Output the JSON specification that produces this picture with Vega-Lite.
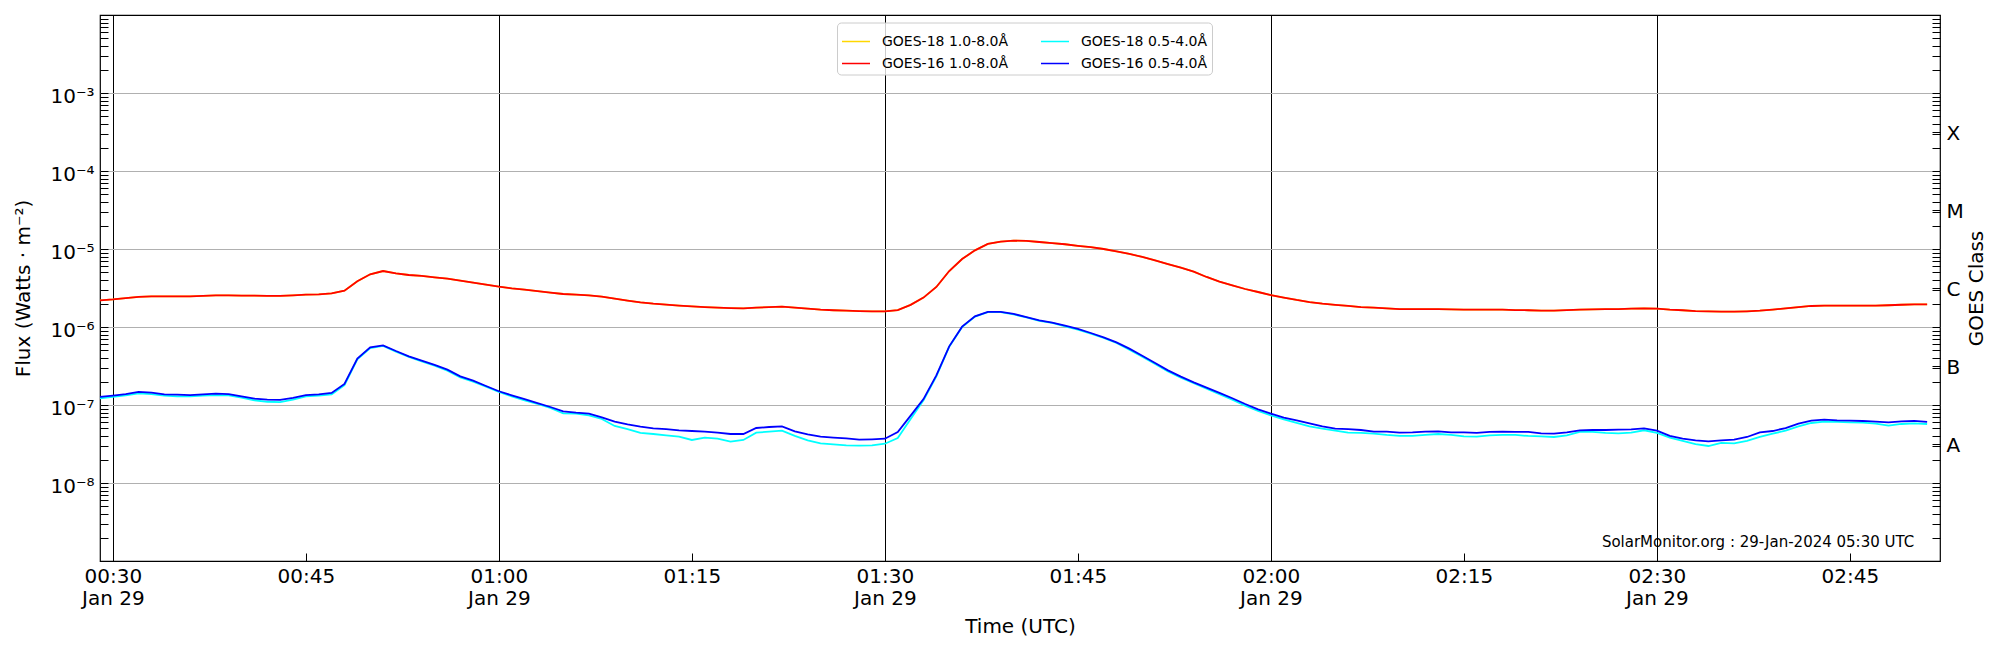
{
  "$schema": "https://vega.github.io/schema/vega-lite/v6.json",
  "width": 1840,
  "height": 546,
  "autosize": "none",
  "padding": {"left": 100, "top": 15, "right": 60, "bottom": 89},
  "background": "white",
  "config": {
    "font": "DejaVu Sans",
    "view": {"stroke": "black", "strokeWidth": 1.2},
    "axis": {
      "labelFont": "DejaVu Sans",
      "titleFont": "DejaVu Sans",
      "labelColor": "black",
      "titleColor": "black",
      "titleFontWeight": "normal",
      "labelFontSize": 20,
      "titleFontSize": 20,
      "domain": false,
      "tickColor": "black",
      "tickWidth": 1,
      "labelOverlap": false,
      "labelFlush": false,
      "labelBound": false
    }
  },
  "data": {
    "values": [
      {"t": "2024-01-29T00:29Z", "l16": 2.20e-6, "s16": 1.27e-7, "s18": 1.22e-7},
      {"t": "2024-01-29T00:30Z", "l16": 2.26e-6, "s16": 1.32e-7, "s18": 1.27e-7},
      {"t": "2024-01-29T00:31Z", "l16": 2.35e-6, "s16": 1.38e-7, "s18": 1.33e-7},
      {"t": "2024-01-29T00:32Z", "l16": 2.43e-6, "s16": 1.47e-7, "s18": 1.41e-7},
      {"t": "2024-01-29T00:33Z", "l16": 2.47e-6, "s16": 1.44e-7, "s18": 1.38e-7},
      {"t": "2024-01-29T00:34Z", "l16": 2.47e-6, "s16": 1.37e-7, "s18": 1.32e-7},
      {"t": "2024-01-29T00:35Z", "l16": 2.47e-6, "s16": 1.36e-7, "s18": 1.29e-7},
      {"t": "2024-01-29T00:36Z", "l16": 2.47e-6, "s16": 1.34e-7, "s18": 1.29e-7},
      {"t": "2024-01-29T00:37Z", "l16": 2.50e-6, "s16": 1.37e-7, "s18": 1.32e-7},
      {"t": "2024-01-29T00:38Z", "l16": 2.55e-6, "s16": 1.40e-7, "s18": 1.34e-7},
      {"t": "2024-01-29T00:39Z", "l16": 2.55e-6, "s16": 1.38e-7, "s18": 1.33e-7},
      {"t": "2024-01-29T00:40Z", "l16": 2.52e-6, "s16": 1.29e-7, "s18": 1.24e-7},
      {"t": "2024-01-29T00:41Z", "l16": 2.52e-6, "s16": 1.21e-7, "s18": 1.15e-7},
      {"t": "2024-01-29T00:42Z", "l16": 2.50e-6, "s16": 1.17e-7, "s18": 1.10e-7},
      {"t": "2024-01-29T00:43Z", "l16": 2.50e-6, "s16": 1.16e-7, "s18": 1.09e-7},
      {"t": "2024-01-29T00:44Z", "l16": 2.55e-6, "s16": 1.23e-7, "s18": 1.17e-7},
      {"t": "2024-01-29T00:45Z", "l16": 2.60e-6, "s16": 1.34e-7, "s18": 1.29e-7},
      {"t": "2024-01-29T00:46Z", "l16": 2.62e-6, "s16": 1.37e-7, "s18": 1.32e-7},
      {"t": "2024-01-29T00:47Z", "l16": 2.70e-6, "s16": 1.43e-7, "s18": 1.37e-7},
      {"t": "2024-01-29T00:48Z", "l16": 2.92e-6, "s16": 1.86e-7, "s18": 1.80e-7},
      {"t": "2024-01-29T00:49Z", "l16": 3.85e-6, "s16": 3.93e-7, "s18": 3.85e-7},
      {"t": "2024-01-29T00:50Z", "l16": 4.74e-6, "s16": 5.49e-7, "s18": 5.38e-7},
      {"t": "2024-01-29T00:51Z", "l16": 5.22e-6, "s16": 5.82e-7, "s18": 5.71e-7},
      {"t": "2024-01-29T00:52Z", "l16": 4.88e-6, "s16": 4.92e-7, "s18": 4.83e-7},
      {"t": "2024-01-29T00:53Z", "l16": 4.64e-6, "s16": 4.21e-7, "s18": 4.13e-7},
      {"t": "2024-01-29T00:54Z", "l16": 4.51e-6, "s16": 3.70e-7, "s18": 3.63e-7},
      {"t": "2024-01-29T00:55Z", "l16": 4.33e-6, "s16": 3.26e-7, "s18": 3.19e-7},
      {"t": "2024-01-29T00:56Z", "l16": 4.17e-6, "s16": 2.84e-7, "s18": 2.76e-7},
      {"t": "2024-01-29T00:57Z", "l16": 3.93e-6, "s16": 2.33e-7, "s18": 2.26e-7},
      {"t": "2024-01-29T00:58Z", "l16": 3.70e-6, "s16": 2.05e-7, "s18": 1.99e-7},
      {"t": "2024-01-29T00:59Z", "l16": 3.49e-6, "s16": 1.75e-7, "s18": 1.72e-7},
      {"t": "2024-01-29T01:00Z", "l16": 3.29e-6, "s16": 1.50e-7, "s18": 1.47e-7},
      {"t": "2024-01-29T01:01Z", "l16": 3.13e-6, "s16": 1.33e-7, "s18": 1.29e-7},
      {"t": "2024-01-29T01:02Z", "l16": 3.01e-6, "s16": 1.19e-7, "s18": 1.15e-7},
      {"t": "2024-01-29T01:03Z", "l16": 2.89e-6, "s16": 1.06e-7, "s18": 1.03e-7},
      {"t": "2024-01-29T01:04Z", "l16": 2.76e-6, "s16": 9.43e-8, "s18": 9.15e-8},
      {"t": "2024-01-29T01:05Z", "l16": 2.65e-6, "s16": 8.30e-8, "s18": 7.82e-8},
      {"t": "2024-01-29T01:06Z", "l16": 2.60e-6, "s16": 7.98e-8, "s18": 7.74e-8},
      {"t": "2024-01-29T01:07Z", "l16": 2.55e-6, "s16": 7.74e-8, "s18": 7.37e-8},
      {"t": "2024-01-29T01:08Z", "l16": 2.45e-6, "s16": 6.95e-8, "s18": 6.62e-8},
      {"t": "2024-01-29T01:09Z", "l16": 2.31e-6, "s16": 6.12e-8, "s18": 5.38e-8},
      {"t": "2024-01-29T01:10Z", "l16": 2.18e-6, "s16": 5.65e-8, "s18": 4.92e-8},
      {"t": "2024-01-29T01:11Z", "l16": 2.07e-6, "s16": 5.28e-8, "s18": 4.38e-8},
      {"t": "2024-01-29T01:12Z", "l16": 1.99e-6, "s16": 5.02e-8, "s18": 4.25e-8},
      {"t": "2024-01-29T01:13Z", "l16": 1.93e-6, "s16": 4.92e-8, "s18": 4.09e-8},
      {"t": "2024-01-29T01:14Z", "l16": 1.88e-6, "s16": 4.74e-8, "s18": 3.93e-8},
      {"t": "2024-01-29T01:15Z", "l16": 1.84e-6, "s16": 4.64e-8, "s18": 3.56e-8},
      {"t": "2024-01-29T01:16Z", "l16": 1.80e-6, "s16": 4.55e-8, "s18": 3.82e-8},
      {"t": "2024-01-29T01:17Z", "l16": 1.77e-6, "s16": 4.42e-8, "s18": 3.70e-8},
      {"t": "2024-01-29T01:18Z", "l16": 1.75e-6, "s16": 4.25e-8, "s18": 3.39e-8},
      {"t": "2024-01-29T01:19Z", "l16": 1.73e-6, "s16": 4.25e-8, "s18": 3.56e-8},
      {"t": "2024-01-29T01:20Z", "l16": 1.77e-6, "s16": 5.07e-8, "s18": 4.42e-8},
      {"t": "2024-01-29T01:21Z", "l16": 1.80e-6, "s16": 5.22e-8, "s18": 4.55e-8},
      {"t": "2024-01-29T01:22Z", "l16": 1.82e-6, "s16": 5.33e-8, "s18": 4.69e-8},
      {"t": "2024-01-29T01:23Z", "l16": 1.77e-6, "s16": 4.60e-8, "s18": 4.01e-8},
      {"t": "2024-01-29T01:24Z", "l16": 1.72e-6, "s16": 4.21e-8, "s18": 3.52e-8},
      {"t": "2024-01-29T01:25Z", "l16": 1.67e-6, "s16": 3.93e-8, "s18": 3.23e-8},
      {"t": "2024-01-29T01:26Z", "l16": 1.64e-6, "s16": 3.82e-8, "s18": 3.13e-8},
      {"t": "2024-01-29T01:27Z", "l16": 1.62e-6, "s16": 3.74e-8, "s18": 3.04e-8},
      {"t": "2024-01-29T01:28Z", "l16": 1.60e-6, "s16": 3.59e-8, "s18": 3.01e-8},
      {"t": "2024-01-29T01:29Z", "l16": 1.59e-6, "s16": 3.63e-8, "s18": 3.04e-8},
      {"t": "2024-01-29T01:30Z", "l16": 1.59e-6, "s16": 3.70e-8, "s18": 3.19e-8},
      {"t": "2024-01-29T01:31Z", "l16": 1.65e-6, "s16": 4.51e-8, "s18": 3.78e-8},
      {"t": "2024-01-29T01:32Z", "l16": 1.92e-6, "s16": 7.30e-8, "s18": 6.62e-8},
      {"t": "2024-01-29T01:33Z", "l16": 2.38e-6, "s16": 1.19e-7, "s18": 1.15e-7},
      {"t": "2024-01-29T01:34Z", "l16": 3.26e-6, "s16": 2.40e-7, "s18": 2.33e-7},
      {"t": "2024-01-29T01:35Z", "l16": 5.22e-6, "s16": 5.65e-7, "s18": 5.60e-7},
      {"t": "2024-01-29T01:36Z", "l16": 7.44e-6, "s16": 1.01e-6, "s18": 1.00e-6},
      {"t": "2024-01-29T01:37Z", "l16": 9.61e-6, "s16": 1.37e-6, "s18": 1.36e-6},
      {"t": "2024-01-29T01:38Z", "l16": 1.16e-5, "s16": 1.56e-6, "s18": 1.55e-6},
      {"t": "2024-01-29T01:39Z", "l16": 1.24e-5, "s16": 1.56e-6, "s18": 1.55e-6},
      {"t": "2024-01-29T01:40Z", "l16": 1.28e-5, "s16": 1.47e-6, "s18": 1.45e-6},
      {"t": "2024-01-29T01:41Z", "l16": 1.27e-5, "s16": 1.34e-6, "s18": 1.33e-6},
      {"t": "2024-01-29T01:42Z", "l16": 1.23e-5, "s16": 1.22e-6, "s18": 1.20e-6},
      {"t": "2024-01-29T01:43Z", "l16": 1.19e-5, "s16": 1.14e-6, "s18": 1.13e-6},
      {"t": "2024-01-29T01:44Z", "l16": 1.15e-5, "s16": 1.04e-6, "s18": 1.02e-6},
      {"t": "2024-01-29T01:45Z", "l16": 1.10e-5, "s16": 9.43e-7, "s18": 9.24e-7},
      {"t": "2024-01-29T01:46Z", "l16": 1.06e-5, "s16": 8.38e-7, "s18": 8.21e-7},
      {"t": "2024-01-29T01:47Z", "l16": 1.00e-5, "s16": 7.37e-7, "s18": 7.23e-7},
      {"t": "2024-01-29T01:48Z", "l16": 9.33e-6, "s16": 6.36e-7, "s18": 6.24e-7},
      {"t": "2024-01-29T01:49Z", "l16": 8.63e-6, "s16": 5.28e-7, "s18": 5.12e-7},
      {"t": "2024-01-29T01:50Z", "l16": 7.90e-6, "s16": 4.29e-7, "s18": 4.17e-7},
      {"t": "2024-01-29T01:51Z", "l16": 7.16e-6, "s16": 3.46e-7, "s18": 3.36e-7},
      {"t": "2024-01-29T01:52Z", "l16": 6.42e-6, "s16": 2.78e-7, "s18": 2.70e-7},
      {"t": "2024-01-29T01:53Z", "l16": 5.76e-6, "s16": 2.31e-7, "s18": 2.24e-7},
      {"t": "2024-01-29T01:54Z", "l16": 5.12e-6, "s16": 1.95e-7, "s18": 1.90e-7},
      {"t": "2024-01-29T01:55Z", "l16": 4.38e-6, "s16": 1.67e-7, "s18": 1.62e-7},
      {"t": "2024-01-29T01:56Z", "l16": 3.82e-6, "s16": 1.43e-7, "s18": 1.38e-7},
      {"t": "2024-01-29T01:57Z", "l16": 3.42e-6, "s16": 1.22e-7, "s18": 1.17e-7},
      {"t": "2024-01-29T01:58Z", "l16": 3.07e-6, "s16": 1.03e-7, "s18": 9.80e-8},
      {"t": "2024-01-29T01:59Z", "l16": 2.81e-6, "s16": 8.80e-8, "s18": 8.38e-8},
      {"t": "2024-01-29T02:00Z", "l16": 2.57e-6, "s16": 7.74e-8, "s18": 7.37e-8},
      {"t": "2024-01-29T02:01Z", "l16": 2.38e-6, "s16": 6.88e-8, "s18": 6.55e-8},
      {"t": "2024-01-29T02:02Z", "l16": 2.22e-6, "s16": 6.36e-8, "s18": 5.88e-8},
      {"t": "2024-01-29T02:03Z", "l16": 2.09e-6, "s16": 5.82e-8, "s18": 5.33e-8},
      {"t": "2024-01-29T02:04Z", "l16": 1.99e-6, "s16": 5.33e-8, "s18": 4.97e-8},
      {"t": "2024-01-29T02:05Z", "l16": 1.92e-6, "s16": 4.97e-8, "s18": 4.69e-8},
      {"t": "2024-01-29T02:06Z", "l16": 1.86e-6, "s16": 4.92e-8, "s18": 4.42e-8},
      {"t": "2024-01-29T02:07Z", "l16": 1.80e-6, "s16": 4.78e-8, "s18": 4.38e-8},
      {"t": "2024-01-29T02:08Z", "l16": 1.77e-6, "s16": 4.55e-8, "s18": 4.29e-8},
      {"t": "2024-01-29T02:09Z", "l16": 1.73e-6, "s16": 4.55e-8, "s18": 4.13e-8},
      {"t": "2024-01-29T02:10Z", "l16": 1.70e-6, "s16": 4.42e-8, "s18": 4.01e-8},
      {"t": "2024-01-29T02:11Z", "l16": 1.70e-6, "s16": 4.46e-8, "s18": 4.01e-8},
      {"t": "2024-01-29T02:12Z", "l16": 1.70e-6, "s16": 4.55e-8, "s18": 4.13e-8},
      {"t": "2024-01-29T02:13Z", "l16": 1.70e-6, "s16": 4.60e-8, "s18": 4.25e-8},
      {"t": "2024-01-29T02:14Z", "l16": 1.68e-6, "s16": 4.46e-8, "s18": 4.13e-8},
      {"t": "2024-01-29T02:15Z", "l16": 1.67e-6, "s16": 4.46e-8, "s18": 3.97e-8},
      {"t": "2024-01-29T02:16Z", "l16": 1.67e-6, "s16": 4.38e-8, "s18": 3.93e-8},
      {"t": "2024-01-29T02:17Z", "l16": 1.67e-6, "s16": 4.51e-8, "s18": 4.09e-8},
      {"t": "2024-01-29T02:18Z", "l16": 1.67e-6, "s16": 4.55e-8, "s18": 4.13e-8},
      {"t": "2024-01-29T02:19Z", "l16": 1.65e-6, "s16": 4.51e-8, "s18": 4.13e-8},
      {"t": "2024-01-29T02:20Z", "l16": 1.64e-6, "s16": 4.51e-8, "s18": 4.01e-8},
      {"t": "2024-01-29T02:21Z", "l16": 1.62e-6, "s16": 4.33e-8, "s18": 3.97e-8},
      {"t": "2024-01-29T02:22Z", "l16": 1.62e-6, "s16": 4.29e-8, "s18": 3.89e-8},
      {"t": "2024-01-29T02:23Z", "l16": 1.65e-6, "s16": 4.46e-8, "s18": 4.09e-8},
      {"t": "2024-01-29T02:24Z", "l16": 1.67e-6, "s16": 4.74e-8, "s18": 4.51e-8},
      {"t": "2024-01-29T02:25Z", "l16": 1.68e-6, "s16": 4.78e-8, "s18": 4.51e-8},
      {"t": "2024-01-29T02:26Z", "l16": 1.70e-6, "s16": 4.78e-8, "s18": 4.38e-8},
      {"t": "2024-01-29T02:27Z", "l16": 1.70e-6, "s16": 4.83e-8, "s18": 4.33e-8},
      {"t": "2024-01-29T02:28Z", "l16": 1.72e-6, "s16": 4.88e-8, "s18": 4.42e-8},
      {"t": "2024-01-29T02:29Z", "l16": 1.73e-6, "s16": 5.02e-8, "s18": 4.74e-8},
      {"t": "2024-01-29T02:30Z", "l16": 1.72e-6, "s16": 4.69e-8, "s18": 4.38e-8},
      {"t": "2024-01-29T02:31Z", "l16": 1.67e-6, "s16": 4.01e-8, "s18": 3.82e-8},
      {"t": "2024-01-29T02:32Z", "l16": 1.64e-6, "s16": 3.70e-8, "s18": 3.46e-8},
      {"t": "2024-01-29T02:33Z", "l16": 1.60e-6, "s16": 3.52e-8, "s18": 3.16e-8},
      {"t": "2024-01-29T02:34Z", "l16": 1.59e-6, "s16": 3.42e-8, "s18": 2.98e-8},
      {"t": "2024-01-29T02:35Z", "l16": 1.57e-6, "s16": 3.52e-8, "s18": 3.26e-8},
      {"t": "2024-01-29T02:36Z", "l16": 1.57e-6, "s16": 3.59e-8, "s18": 3.23e-8},
      {"t": "2024-01-29T02:37Z", "l16": 1.59e-6, "s16": 3.89e-8, "s18": 3.46e-8},
      {"t": "2024-01-29T02:38Z", "l16": 1.62e-6, "s16": 4.46e-8, "s18": 3.89e-8},
      {"t": "2024-01-29T02:39Z", "l16": 1.67e-6, "s16": 4.64e-8, "s18": 4.29e-8},
      {"t": "2024-01-29T02:40Z", "l16": 1.73e-6, "s16": 5.07e-8, "s18": 4.69e-8},
      {"t": "2024-01-29T02:41Z", "l16": 1.80e-6, "s16": 5.76e-8, "s18": 5.33e-8},
      {"t": "2024-01-29T02:42Z", "l16": 1.86e-6, "s16": 6.30e-8, "s18": 5.88e-8},
      {"t": "2024-01-29T02:43Z", "l16": 1.88e-6, "s16": 6.49e-8, "s18": 6.12e-8},
      {"t": "2024-01-29T02:44Z", "l16": 1.88e-6, "s16": 6.36e-8, "s18": 6.06e-8},
      {"t": "2024-01-29T02:45Z", "l16": 1.88e-6, "s16": 6.30e-8, "s18": 6.00e-8},
      {"t": "2024-01-29T02:46Z", "l16": 1.88e-6, "s16": 6.24e-8, "s18": 5.94e-8},
      {"t": "2024-01-29T02:47Z", "l16": 1.88e-6, "s16": 6.12e-8, "s18": 5.76e-8},
      {"t": "2024-01-29T02:48Z", "l16": 1.90e-6, "s16": 6.00e-8, "s18": 5.43e-8},
      {"t": "2024-01-29T02:49Z", "l16": 1.93e-6, "s16": 6.18e-8, "s18": 5.71e-8},
      {"t": "2024-01-29T02:50Z", "l16": 1.95e-6, "s16": 6.24e-8, "s18": 5.82e-8},
      {"t": "2024-01-29T02:51Z", "l16": 1.95e-6, "s16": 6.06e-8, "s18": 5.71e-8}
    ]
  },
  "layer": [
    {
      "mark": {"type": "line", "strokeWidth": 1.8},
      "encoding": {
        "x": {
          "field": "t",
          "type": "temporal",
          "scale": {"type": "utc", "domain": [1706488140000, 1706496720000]},
          "axis": {
            "orient": "bottom",
            "values": [1706488200000, 1706489100000, 1706490000000, 1706490900000, 1706491800000, 1706492700000, 1706493600000, 1706494500000, 1706495400000, 1706496300000],
            "labelExpr": "utcminutes(datum.value) % 30 == 0 ? [utcFormat(datum.value, '%H:%M'), 'Jan 29'] : utcFormat(datum.value, '%H:%M')",
            "tickSize": -8,
            "labelPadding": 13,
            "labelLineHeight": 22,
            "grid": false,
            "title": "Time (UTC)",
            "titlePadding": 8
          }
        },
        "y": {
          "field": "l16",
          "type": "quantitative",
          "scale": {"type": "log", "domain": [1e-9, 1e-2], "nice": false},
          "axis": {
            "orient": "left",
            "values": [1e-9, 2e-9, 3e-9, 4e-9, 5e-9, 6e-9, 7e-9, 8e-9, 9e-9, 1e-8, 2e-8, 3e-8, 4e-8, 5e-8, 6e-8, 7e-8, 8e-8, 9e-8, 1e-7, 2e-7, 3e-7, 4e-7, 5e-7, 6e-7, 7e-7, 8e-7, 9e-7, 1e-6, 2e-6, 3e-6, 4e-6, 5e-6, 6e-6, 7e-6, 8e-6, 9e-6, 1e-5, 2e-5, 3e-5, 4e-5, 5e-5, 6e-5, 7e-5, 8e-5, 9e-5, 1e-4, 2e-4, 3e-4, 4e-4, 5e-4, 6e-4, 7e-4, 8e-4, 9e-4, 1e-3, 2e-3, 3e-3, 4e-3, 5e-3, 6e-3, 7e-3, 8e-3, 9e-3, 1e-2],
            "labelExpr": "(abs(log(datum.value) / LN10 - round(log(datum.value) / LN10)) < 0.001 && round(log(datum.value) / LN10) >= -8 && round(log(datum.value) / LN10) <= -3) ? '10' + ['⁻⁸', '⁻⁷', '⁻⁶', '⁻⁵', '⁻⁴', '⁻³'][round(log(datum.value) / LN10) + 8] : ''",
            "tickSize": -8,
            "labelPadding": 14,
            "labelOffset": 3,
            "grid": false,
            "title": "Flux (Watts · m⁻²)",
            "titlePadding": 16
          }
        },
        "color": {
          "datum": "GOES-18 1.0-8.0Å",
          "type": "nominal",
          "scale": {
            "domain": ["GOES-18 1.0-8.0Å", "GOES-16 1.0-8.0Å", "GOES-18 0.5-4.0Å", "GOES-16 0.5-4.0Å"],
            "range": ["#FFD700", "#FF0000", "#00FFFF", "#0000FF"]
          },
          "legend": {
            "title": null,
            "orient": "none",
            "legendX": 737,
            "legendY": 7.5,
            "columns": 2,
            "symbolType": "stroke",
            "symbolSize": 784,
            "symbolStrokeWidth": 1.5,
            "labelFont": "DejaVu Sans",
            "labelFontSize": 14,
            "labelColor": "black",
            "labelOffset": 11,
            "labelLimit": 400,
            "columnPadding": 29,
            "rowPadding": -4,
            "padding": 4,
            "fillColor": "rgba(255,255,255,0.8)",
            "strokeColor": "#cccccc",
            "cornerRadius": 4
          }
        }
      }
    },
    {
      "mark": {"type": "line", "strokeWidth": 1.8},
      "encoding": {
        "x": {"field": "t", "type": "temporal", "axis": null},
        "y": {
          "field": "s18",
          "type": "quantitative",
          "axis": {
            "orient": "right",
            "values": [1e-9, 2e-9, 3e-9, 4e-9, 5e-9, 6e-9, 7e-9, 8e-9, 9e-9, 1e-8, 2e-8, 3e-8, 3.1623e-8, 4e-8, 5e-8, 6e-8, 7e-8, 8e-8, 9e-8, 1e-7, 2e-7, 3e-7, 3.1623e-7, 4e-7, 5e-7, 6e-7, 7e-7, 8e-7, 9e-7, 1e-6, 2e-6, 3e-6, 3.1623e-6, 4e-6, 5e-6, 6e-6, 7e-6, 8e-6, 9e-6, 1e-5, 2e-5, 3e-5, 3.1623e-5, 4e-5, 5e-5, 6e-5, 7e-5, 8e-5, 9e-5, 1e-4, 2e-4, 3e-4, 3.1623e-4, 4e-4, 5e-4, 6e-4, 7e-4, 8e-4, 9e-4, 1e-3, 2e-3, 3e-3, 4e-3, 5e-3, 6e-3, 7e-3, 8e-3, 9e-3, 1e-2],
            "labelExpr": "abs(log(datum.value) / LN10 + 3.5) < 0.005 ? 'X' : abs(log(datum.value) / LN10 + 4.5) < 0.005 ? 'M' : abs(log(datum.value) / LN10 + 5.5) < 0.005 ? 'C' : abs(log(datum.value) / LN10 + 6.5) < 0.005 ? 'B' : abs(log(datum.value) / LN10 + 7.5) < 0.005 ? 'A' : ''",
            "tickSize": -8,
            "labelPadding": 14,
            "labelOffset": 2,
            "grid": false,
            "title": "GOES Class",
            "titleAngle": 270,
            "titleBaseline": "top",
            "titlePadding": 3
          }
        },
        "color": {"datum": "GOES-18 0.5-4.0Å", "type": "nominal"}
      }
    },
    {
      "mark": {"type": "line", "strokeWidth": 1.8},
      "encoding": {
        "x": {
          "field": "t",
          "type": "temporal",
          "axis": {
            "orient": "bottom",
            "values": [1706488200000, 1706490000000, 1706491800000, 1706493600000, 1706495400000],
            "grid": true,
            "gridColor": "black",
            "gridWidth": 1,
            "gridOpacity": 1,
            "ticks": false,
            "labels": false,
            "title": null
          }
        },
        "y": {
          "field": "l16",
          "type": "quantitative",
          "axis": {
            "orient": "left",
            "values": [1e-8, 1e-7, 1e-6, 1e-5, 1e-4, 1e-3],
            "grid": true,
            "gridColor": "#b0b0b0",
            "gridWidth": 1,
            "gridOpacity": 1,
            "ticks": false,
            "labels": false,
            "title": null
          }
        },
        "color": {"datum": "GOES-16 1.0-8.0Å", "type": "nominal"}
      }
    },
    {
      "mark": {"type": "line", "strokeWidth": 1.8},
      "encoding": {
        "x": {"field": "t", "type": "temporal", "axis": null},
        "y": {"field": "s16", "type": "quantitative", "axis": null},
        "color": {"datum": "GOES-16 0.5-4.0Å", "type": "nominal"}
      }
    },
    {
      "data": {"values": [{"t": "2024-01-29T02:50Z", "flux": 1.73e-9, "label": "SolarMonitor.org : 29-Jan-2024 05:30 UTC"}]},
      "mark": {"type": "text", "align": "right", "baseline": "middle", "font": "DejaVu Sans", "fontSize": 15, "color": "black"},
      "encoding": {
        "x": {"field": "t", "type": "temporal", "axis": null},
        "y": {"field": "flux", "type": "quantitative", "axis": null},
        "text": {"field": "label"}
      }
    }
  ],
  "resolve": {"axis": {"x": "independent", "y": "independent"}}
}
